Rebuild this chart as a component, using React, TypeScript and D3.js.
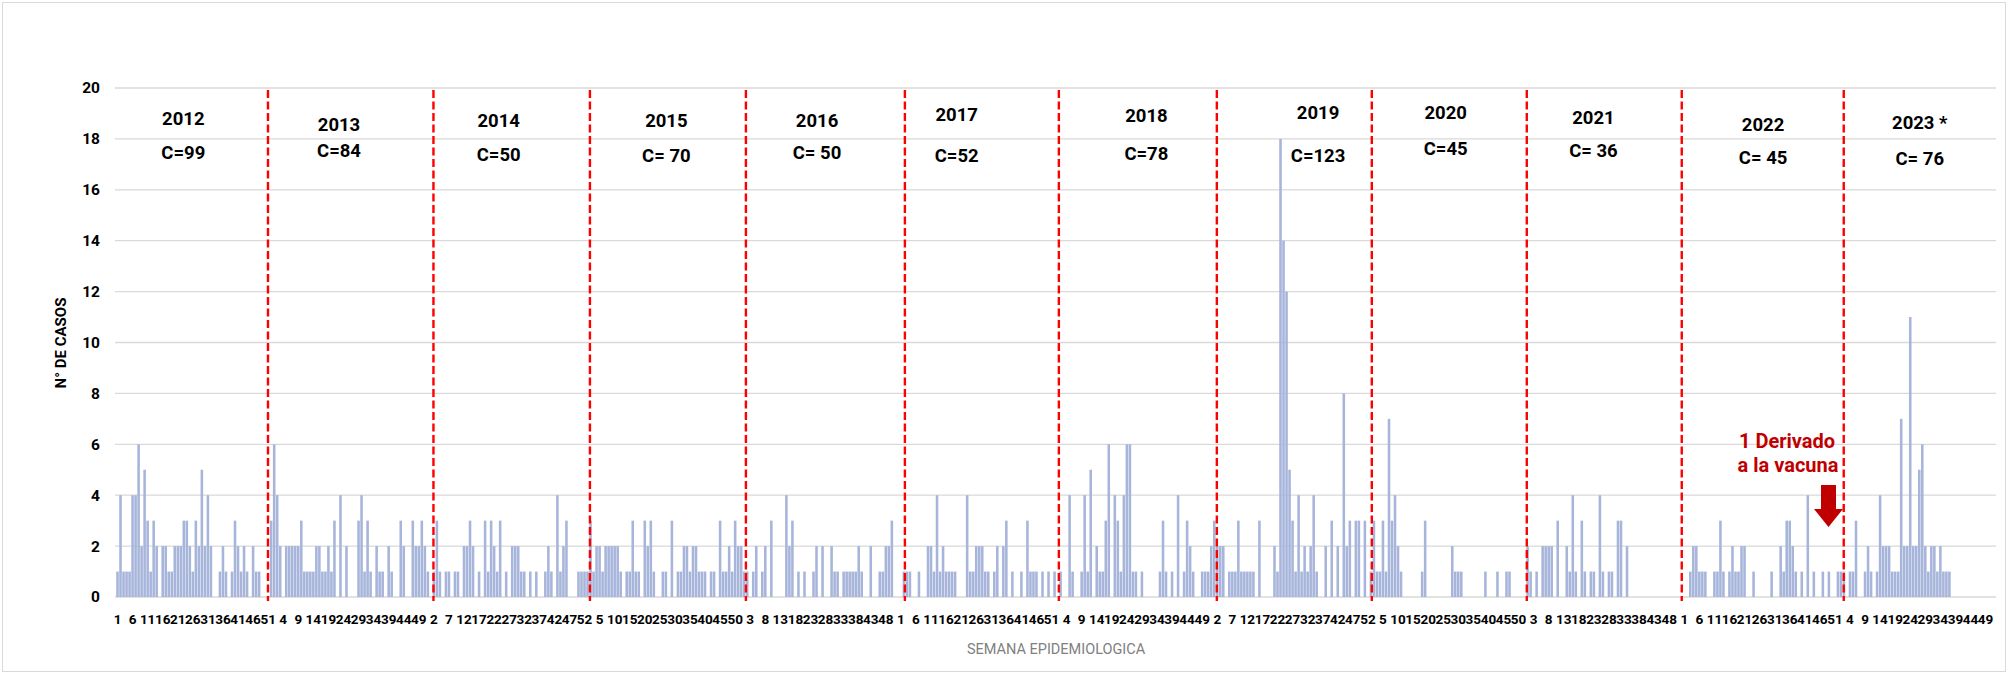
import * as d3 from "d3";

const years = [2012, 2013, 2014, 2015, 2016, 2017, 2018, 2019, 2020, 2021, 2022, 2023];
const yearTitles = ["2012", "2013", "2014", "2015", "2016", "2017", "2018", "2019", "2020", "2021", "2022", "2023 *"];
const yearTotals = ["C=99", "C=84", "C=50", "C= 70", "C= 50", "C=52", "C=78", "C=123", "C=45", "C= 36", "C= 45", "C= 76"];

// weekly cases, week 1..52
const cases2012 = [1, 4, 1, 1, 1, 4, 4, 6, 2, 5, 3, 1, 3, 2, 0, 2, 2, 1, 1, 2, 2, 2, 3, 3, 2, 1, 3, 2, 5, 2, 4, 2, 0, 0, 1, 2, 1, 0, 1, 3, 2, 1, 2, 1, 0, 2, 1, 1, 0, 0, 0, 3];
const cases2013 = [6, 4, 2, 0, 2, 2, 2, 2, 2, 3, 1, 1, 1, 1, 2, 2, 1, 1, 2, 1, 3, 0, 4, 0, 2, 0, 0, 0, 3, 4, 1, 3, 1, 0, 2, 1, 1, 0, 2, 1, 0, 0, 3, 2, 0, 0, 3, 2, 2, 3, 2, 1];
const cases2014 = [0, 1, 3, 1, 0, 1, 1, 0, 1, 1, 0, 2, 2, 3, 2, 0, 1, 0, 3, 1, 3, 2, 1, 3, 0, 1, 0, 2, 2, 2, 1, 1, 0, 1, 0, 1, 0, 0, 1, 2, 1, 0, 4, 1, 2, 3, 0, 0, 0, 1, 1, 1];
const cases2015 = [1, 3, 1, 2, 2, 1, 2, 2, 2, 2, 2, 1, 0, 1, 1, 3, 1, 1, 0, 3, 2, 3, 1, 0, 0, 1, 1, 0, 3, 0, 1, 1, 2, 2, 1, 2, 2, 1, 1, 1, 0, 1, 1, 0, 3, 1, 1, 2, 1, 3, 2, 2];
const cases2016 = [1, 1, 0, 1, 2, 0, 1, 2, 0, 3, 0, 0, 0, 0, 4, 2, 3, 0, 1, 0, 1, 0, 0, 1, 2, 0, 2, 0, 0, 2, 1, 1, 0, 1, 1, 1, 1, 1, 2, 1, 0, 0, 2, 0, 0, 1, 1, 2, 2, 3, 0, 0];
const cases2017 = [0, 1, 1, 1, 0, 0, 1, 0, 0, 2, 2, 1, 4, 1, 2, 1, 1, 1, 1, 0, 0, 0, 4, 1, 1, 2, 2, 2, 1, 1, 0, 1, 2, 0, 2, 3, 0, 1, 0, 0, 1, 0, 3, 1, 1, 1, 0, 1, 0, 1, 0, 1];
const cases2018 = [0, 1, 0, 0, 4, 1, 0, 0, 1, 4, 1, 5, 0, 2, 1, 1, 3, 6, 0, 4, 3, 1, 4, 6, 6, 1, 1, 0, 1, 0, 0, 0, 0, 0, 1, 3, 1, 0, 1, 0, 4, 0, 1, 3, 2, 1, 0, 0, 1, 1, 1, 2];
const cases2019 = [3, 2, 2, 2, 0, 1, 1, 1, 3, 1, 1, 1, 1, 1, 0, 3, 0, 0, 0, 0, 2, 1, 18, 14, 12, 5, 3, 1, 4, 1, 2, 1, 2, 4, 1, 0, 0, 2, 0, 3, 0, 2, 0, 8, 2, 3, 0, 3, 3, 0, 3, 0];
const cases2020 = [1, 3, 1, 1, 3, 1, 7, 3, 4, 2, 1, 0, 0, 0, 0, 0, 0, 1, 3, 0, 0, 0, 0, 0, 0, 0, 0, 2, 1, 1, 1, 0, 0, 0, 0, 0, 0, 0, 1, 0, 0, 0, 1, 0, 0, 1, 1, 0, 0, 0, 0, 0];
const cases2021 = [2, 1, 0, 1, 0, 2, 2, 2, 2, 0, 3, 0, 0, 2, 1, 4, 1, 0, 3, 1, 0, 1, 1, 0, 4, 1, 0, 1, 1, 0, 3, 3, 0, 2, 0, 0, 0, 0, 0, 0, 0, 0, 0, 0, 0, 0, 0, 0, 0, 0, 0, 0];
const cases2022 = [0, 0, 1, 2, 2, 1, 1, 1, 0, 0, 1, 1, 3, 1, 0, 1, 2, 1, 1, 2, 2, 0, 0, 1, 0, 0, 0, 0, 0, 1, 0, 0, 2, 1, 3, 3, 2, 1, 0, 1, 0, 4, 0, 1, 0, 0, 1, 0, 1, 0, 0, 1];
const cases2023 = [1, 1, 0, 1, 1, 3, 0, 0, 1, 2, 1, 0, 1, 4, 2, 2, 2, 1, 1, 1, 7, 2, 2, 11, 2, 2, 5, 6, 2, 1, 2, 2, 1, 2, 1, 1, 1];
const casesByYear = [cases2012, cases2013, cases2014, cases2015, cases2016, cases2017, cases2018, cases2019, cases2020, cases2021, cases2022, cases2023];
const weeksPerYear = 52;
const yTicks = [0, 2, 4, 6, 8, 10, 12, 14, 16, 18, 20];

// layout nudges (px) for the hand-placed annotations
const sepNudge = [-4.7, 4.1, 3.9, 3.2, 5.5, 2.8, 4.1, 2.4, 0.7, -1, 4.3];
const titleNudgeX = [-11, -12, -9, 2, -4, -21, 12, 27, -2, -11, 2, 2];
const titleY = [119, 125, 121, 121, 121, 115, 116, 113, 113, 118, 125, 123];
const totalY = [153, 151, 155, 156, 153, 156, 154, 156, 149, 151, 158, 159];

const W = 2007;
const H = 674;
const step = 3.013;
const left = 116;
const font = "Roboto, 'Liberation Sans', sans-serif";

export default function App() {
    const cats: { key: string; week: number; value: number }[] = [];
    years.forEach((yr, k) => {
        for (let w = 1; w <= weeksPerYear; w++) {
            cats.push({ key: `${yr}-${w}`, week: w, value: casesByYear[k][w - 1] ?? 0 });
        }
    });
    const right = left + cats.length * step;
    const x = d3
        .scaleBand<string>()
        .domain(cats.map((c) => c.key))
        .range([left, right])
        .paddingInner(0.15)
        .paddingOuter(0.075);
    const y = d3.scaleLinear([0, 20], [597, 88]);
    const bw = x.bandwidth();
    const yearX = (k: number, w: number) => (x(`${years[k]}-${w}`) ?? 0) - x.step() * x.paddingInner() / 2;

    return (
        <svg width={W} height={H} style={{ position: "absolute", left: 0, top: 0 }} fontFamily={font}>
            <rect x={0} y={0} width={W} height={H} fill="white" />
            <rect x={2.5} y={2.5} width={W - 4} height={H - 5} fill="none" stroke="#d9d9d9" />
            {yTicks.map((t) => (
                <g key={t}>
                    <line x1={left - 1} x2={right} y1={y(t)} y2={y(t)} stroke="#d9d9d9" strokeWidth={1.3} />
                    <text x={100} y={y(t)} dy="0.35em" textAnchor="end" fontSize={15.5} fontWeight="bold" fill="#000">
                        {t}
                    </text>
                </g>
            ))}
            <g fill="#a7b5db">
                {cats.map((c) =>
                    c.value > 0 ? <rect key={c.key} x={x(c.key)} y={y(c.value)} width={bw} height={y(0) - y(c.value)} /> : null
                )}
            </g>
            <g fontSize={13.5} fontWeight="bold" textAnchor="middle" fill="#000">
                {cats.map((c, i) =>
                    i % 5 === 0 ? (
                        <text key={c.key} x={(x(c.key) ?? 0) + bw / 2} y={624}>
                            {c.week}
                        </text>
                    ) : null
                )}
            </g>
            {years.slice(1).map((yr, k) => {
                const sx = yearX(k + 1, 1) + sepNudge[k];
                return <line key={yr} x1={sx} x2={sx} y1={90} y2={601} stroke="#ff0000" strokeWidth={2.4} strokeDasharray="8,3.5" />;
            })}
            <g fontSize={18.5} fontWeight="bold" textAnchor="middle" fill="#000">
                {years.map((yr, k) => {
                    const cx = yearX(k, 27) + titleNudgeX[k];
                    return (
                        <g key={yr}>
                            <text x={cx} y={titleY[k]} dy="0.35em">{yearTitles[k]}</text>
                            <text x={cx} y={totalY[k]} dy="0.35em">{yearTotals[k]}</text>
                        </g>
                    );
                })}
            </g>
            <text transform="translate(61,343) rotate(-90)" textAnchor="middle" dy="0.35em" fontSize={15} fontWeight="bold" fill="#000">
                N° DE CASOS
            </text>
            <text x={(left + right) / 2} y={649} dy="0.35em" textAnchor="middle" fontSize={14.5} fill="#808080">
                SEMANA EPIDEMIOLOGICA
            </text>
            <g fill="#c00000" fontWeight="bold" fontSize={20} textAnchor="middle">
                <text x={1787} y={448}>1 Derivado</text>
                <text x={1788} y={472}>a la vacuna</text>
            </g>
            <path d="M1821,485 L1836,485 L1836,509 L1843,509 L1828.5,527 L1814,509 L1821,509 Z" fill="#c00000" />
        </svg>
    );
}
